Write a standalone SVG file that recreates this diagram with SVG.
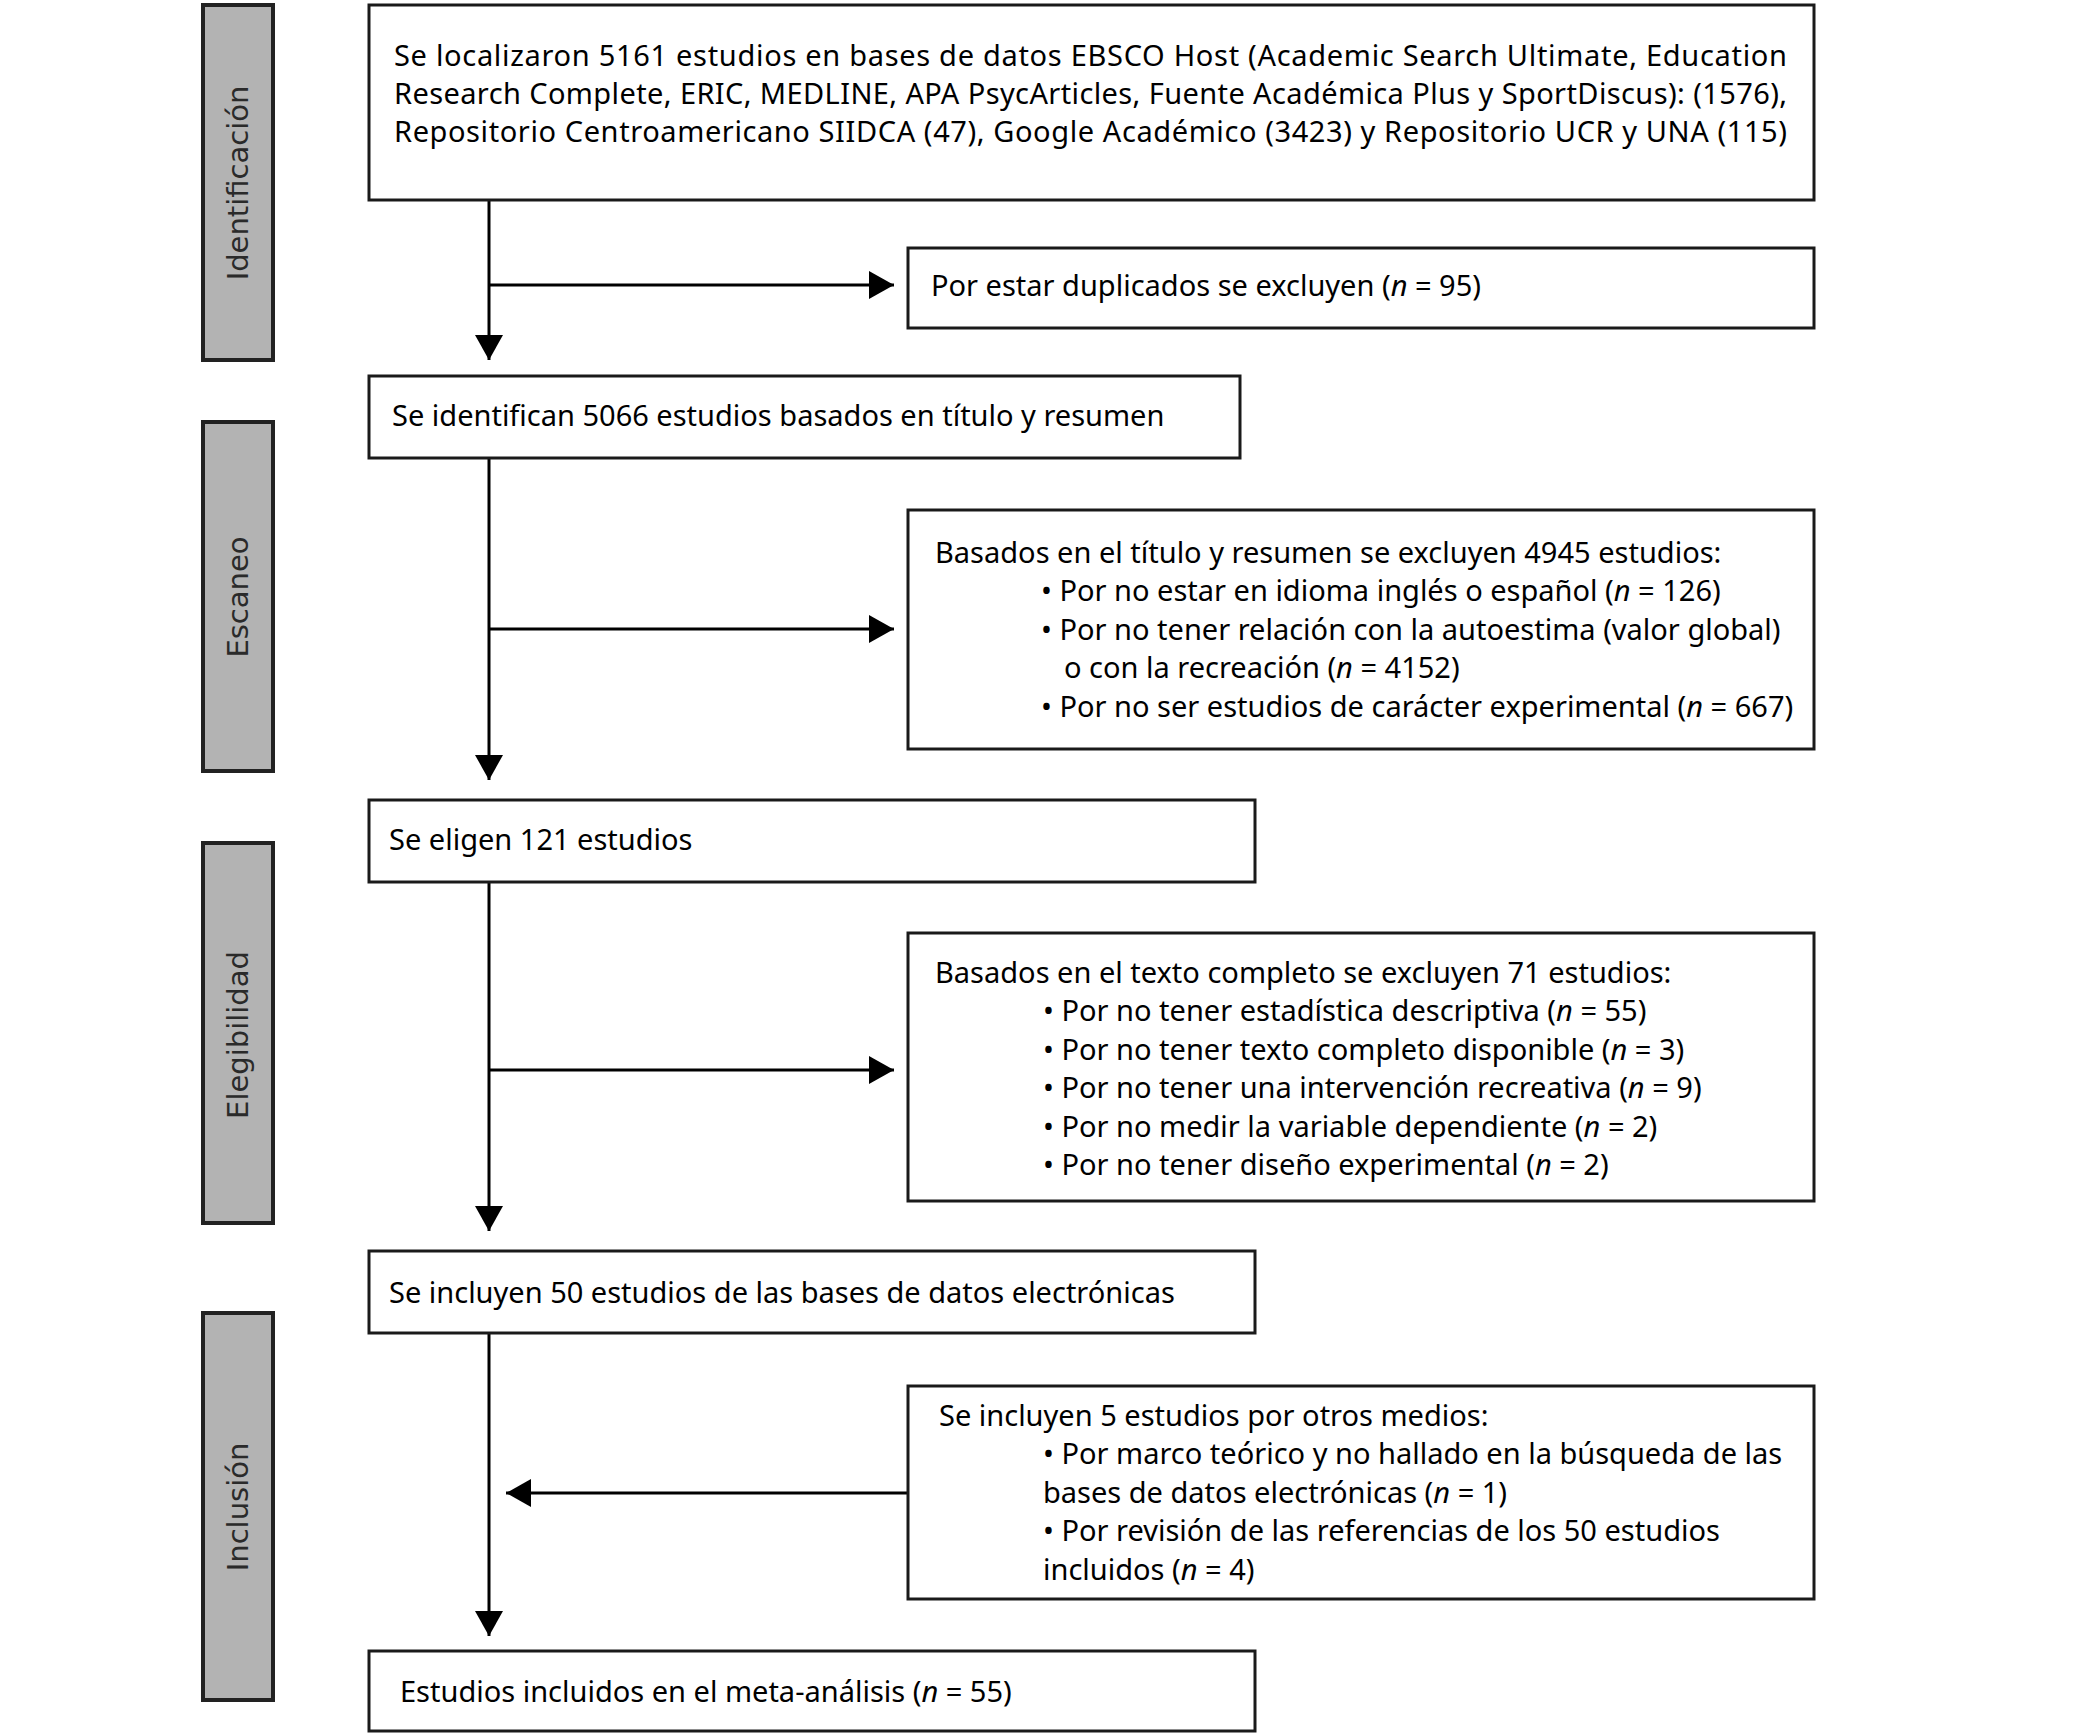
<svg xmlns="http://www.w3.org/2000/svg" width="2076" height="1733" viewBox="0 0 2076 1733">
<style>
.bg{fill:#ffffff}
.bar{fill:#b3b3b3;stroke:#222;stroke-width:4}
.box{fill:#ffffff;stroke:#1a1a1a;stroke-width:3}
.t{font-family:"Noto Sans","Liberation Sans",sans-serif;font-size:29px;fill:#000}
.lab{font-family:"DejaVu Sans","Liberation Sans",sans-serif;font-size:29px;fill:#2a2a2a}
.ln{stroke:#000;stroke-width:3;fill:none}
.i{font-style:italic}
</style>
<defs>
<marker id="ah" markerUnits="userSpaceOnUse" markerWidth="26" markerHeight="30" refX="25" refY="14" orient="auto" viewBox="0 0 26 30">
<path d="M0,0 L25,14 L0,28 z" fill="#000"/>
</marker>
</defs>
<rect class="bg" x="0" y="0" width="2076" height="1733"/>

<g id="phase-identificacion">
<rect class="bar" x="203" y="5" width="70" height="355"/>
<text class="lab" transform="translate(238,183) rotate(-90)" text-anchor="middle" dominant-baseline="central">Identificación</text>
</g>
<g id="phase-escaneo">
<rect class="bar" x="203" y="422" width="70" height="349"/>
<text class="lab" transform="translate(238,597) rotate(-90)" text-anchor="middle" dominant-baseline="central">Escaneo</text>
</g>
<g id="phase-elegibilidad">
<rect class="bar" x="203" y="843" width="70" height="380"/>
<text class="lab" transform="translate(238,1035) rotate(-90)" text-anchor="middle" dominant-baseline="central">Elegibilidad</text>
</g>
<g id="phase-inclusion">
<rect class="bar" x="203" y="1313" width="70" height="387"/>
<text class="lab" transform="translate(238,1507) rotate(-90)" text-anchor="middle" dominant-baseline="central">Inclusión</text>
</g>

<g id="connectors">
<line class="ln" x1="489" y1="200" x2="489" y2="360" marker-end="url(#ah)"/>
<line class="ln" x1="489" y1="285" x2="894" y2="285" marker-end="url(#ah)"/>
<line class="ln" x1="489" y1="458" x2="489" y2="780" marker-end="url(#ah)"/>
<line class="ln" x1="489" y1="629" x2="894" y2="629" marker-end="url(#ah)"/>
<line class="ln" x1="489" y1="882" x2="489" y2="1231" marker-end="url(#ah)"/>
<line class="ln" x1="489" y1="1070" x2="894" y2="1070" marker-end="url(#ah)"/>
<line class="ln" x1="489" y1="1333" x2="489" y2="1636" marker-end="url(#ah)"/>
<line class="ln" x1="908" y1="1493" x2="506" y2="1493" marker-end="url(#ah)"/>
</g>

<g id="n-localizados">
<rect class="box" x="369" y="5" width="1445" height="195"/>
<text class="t" x="394" y="66" textLength="1393" lengthAdjust="spacing">Se localizaron 5161 estudios en bases de datos EBSCO Host (Academic Search Ultimate, Education</text>
<text class="t" x="394" y="104" textLength="1393" lengthAdjust="spacing">Research Complete, ERIC, MEDLINE, APA PsycArticles, Fuente Académica Plus y SportDiscus): (1576),</text>
<text class="t" x="394" y="142" textLength="1393" lengthAdjust="spacing">Repositorio Centroamericano SIIDCA (47), Google Académico (3423) y Repositorio UCR y UNA (115)</text>
</g>

<g id="n-duplicados">
<rect class="box" x="908" y="248" width="906" height="80"/>
<text class="t" x="931" y="296">Por estar duplicados se excluyen (<tspan class="i">n</tspan> = 95)</text>
</g>

<g id="n-identifican">
<rect class="box" x="369" y="376" width="871" height="82"/>
<text class="t" x="392" y="426">Se identifican 5066 estudios basados en título y resumen</text>
</g>

<g id="n-excluidos-titulo">
<rect class="box" x="908" y="510" width="906" height="239"/>
<text class="t" x="935" y="563">Basados en el título y resumen se excluyen 4945 estudios:</text>
<text class="t" x="1041" y="601">• Por no estar en idioma inglés o español (<tspan class="i">n</tspan> = 126)</text>
<text class="t" x="1041" y="640">• Por no tener relación con la autoestima (valor global)</text>
<text class="t" x="1064" y="678">o con la recreación (<tspan class="i">n</tspan> = 4152)</text>
<text class="t" x="1041" y="717">• Por no ser estudios de carácter experimental (<tspan class="i">n</tspan> = 667)</text>
</g>

<g id="n-eligen">
<rect class="box" x="369" y="800" width="886" height="82"/>
<text class="t" x="389" y="850">Se eligen 121 estudios</text>
</g>

<g id="n-excluidos-texto">
<rect class="box" x="908" y="933" width="906" height="268"/>
<text class="t" x="935" y="983">Basados en el texto completo se excluyen 71 estudios:</text>
<text class="t" x="1043" y="1021">• Por no tener estadística descriptiva (<tspan class="i">n</tspan> = 55)</text>
<text class="t" x="1043" y="1060">• Por no tener texto completo disponible (<tspan class="i">n</tspan> = 3)</text>
<text class="t" x="1043" y="1098">• Por no tener una intervención recreativa (<tspan class="i">n</tspan> = 9)</text>
<text class="t" x="1043" y="1137">• Por no medir la variable dependiente (<tspan class="i">n</tspan> = 2)</text>
<text class="t" x="1043" y="1175">• Por no tener diseño experimental (<tspan class="i">n</tspan> = 2)</text>
</g>

<g id="n-incluyen-50">
<rect class="box" x="369" y="1251" width="886" height="82"/>
<text class="t" x="389" y="1303">Se incluyen 50 estudios de las bases de datos electrónicas</text>
</g>

<g id="n-otros-medios">
<rect class="box" x="908" y="1386" width="906" height="213"/>
<text class="t" x="939" y="1426">Se incluyen 5 estudios por otros medios:</text>
<text class="t" x="1043" y="1464">• Por marco teórico y no hallado en la búsqueda de las</text>
<text class="t" x="1043" y="1503">bases de datos electrónicas (<tspan class="i">n</tspan> = 1)</text>
<text class="t" x="1043" y="1541">• Por revisión de las referencias de los 50 estudios</text>
<text class="t" x="1043" y="1580">incluidos (<tspan class="i">n</tspan> = 4)</text>
</g>

<g id="n-final">
<rect class="box" x="369" y="1651" width="886" height="80"/>
<text class="t" x="400" y="1702">Estudios incluidos en el meta-análisis (<tspan class="i">n</tspan> = 55)</text>
</g>
</svg>
